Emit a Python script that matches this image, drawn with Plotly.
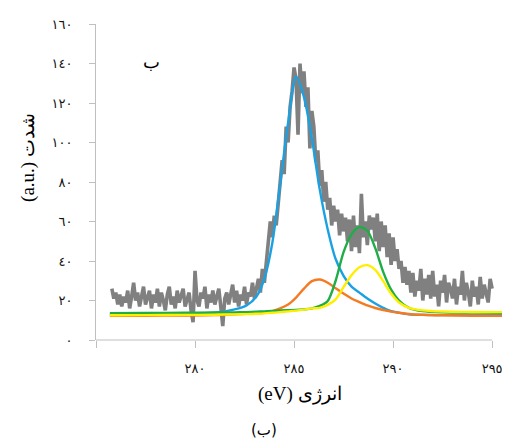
import numpy as np
import plotly.graph_objects as go

# ---------------- data ----------------
# measured spectrum, energy grid start/step (eV)
gray_x0 = 275.8
gray_step = 0.1
gray_y = [
    26, 21, 24, 18, 23, 17, 22, 19, 25, 16, 22, 29,            # 275.8-276.9
    20, 24, 17, 22, 27, 18, 21, 25, 16, 23,                     # 277
    19, 26, 17, 24, 20, 15, 23, 27, 18, 22,                     # 278
    16, 25, 19, 22, 26, 17, 21, 24, 15, 9,                      # 279
    35, 20, 17, 24, 21, 27, 16, 23, 19, 25,                     # 280
    18, 22, 26, 17, 7, 21, 24, 18, 23, 28,                      # 281
    19, 25, 17, 23, 20, 27, 18, 24, 22, 29,                     # 282
    21, 26, 31, 24, 36, 29, 40, 47, 60, 52,                     # 283
    63, 58, 72, 80, 91, 84, 108, 100, 118, 126,                 # 284
    138, 132, 104, 140, 125, 136, 118, 128, 97, 116,            # 285
    108, 90, 96, 78, 86, 70, 80, 66, 72, 58,                    # 286
    68, 60, 66, 53, 64, 55, 62, 50, 61, 45,                     # 287
    63, 47, 58, 44, 74, 52, 60, 48, 63, 56,                     # 288
    62, 50, 64, 45, 60, 47, 58, 42, 54, 38,                     # 289
    52, 40, 46, 36, 40, 29, 37, 28, 35, 24,                     # 290
    34, 22, 30, 25, 36, 20, 31, 23, 33, 21,                     # 291
    35, 22, 28, 17, 30, 24, 33, 19, 29, 26,                     # 292
    21, 31, 18, 27, 23, 35, 20, 29, 24, 17,                     # 293
    30, 22, 27, 18, 32, 21, 28, 24, 19, 31,                     # 294
    26,                                                         # 295
]

# fitted components, sampled on a common energy grid
fit_x = [275.7, 277.5, 279.5, 281.0, 282.0, 282.6, 283.1, 283.5, 283.9, 284.3,
         284.7, 285.1, 285.5, 285.9, 286.3, 286.7, 287.1, 287.5, 287.9, 288.3,
         288.7, 289.1, 289.5, 289.9, 290.3, 290.8, 291.5, 292.5, 294.0, 295.6]
blue_y = [13.0, 13.0, 13.2, 13.8, 15.5, 17.5, 22.0, 31.0, 49.0, 79.0,
          110.0, 133.5, 123.0, 102.0, 76.0, 56.0, 41.0, 32.5, 27.0, 24.0,
          21.0, 18.5, 16.3, 14.6, 13.8, 13.0, 12.7, 12.6, 12.6, 12.6]
orange_y = [12.3, 12.3, 12.4, 12.6, 13.0, 13.3, 13.5, 13.8, 14.6, 16.0,
            18.0, 21.5, 26.0, 29.8, 30.6, 29.0, 26.2, 23.5, 21.0, 19.2,
            17.5, 16.2, 15.2, 14.4, 13.8, 13.2, 12.8, 12.5, 12.3, 12.2]
green_y = [13.6, 13.7, 13.8, 13.9, 14.0, 14.1, 14.3, 14.5, 14.7, 15.0,
           15.1, 15.2, 15.5, 16.0, 17.3, 19.8, 30.0, 44.5, 53.5, 57.2,
           55.3, 46.5, 34.5, 25.5, 20.0, 16.3, 14.6, 14.0, 13.9, 13.8]
yellow_y = [12.5, 12.6, 12.7, 12.8, 13.0, 13.1, 13.3, 13.5, 13.8, 14.1,
            14.5, 14.9, 15.4, 16.0, 16.3, 17.8, 20.6, 26.8, 32.8, 36.8,
            37.9, 35.5, 29.8, 23.5, 19.0, 16.3, 15.0, 14.4, 14.2, 14.1]

x_tick_vals = [280, 285, 290, 295]
x_tick_text = ["٢٨٠", "٢٨٥", "٢٩٠", "٢٩٥"]
y_tick_vals = [0, 20, 40, 60, 80, 100, 120, 140, 160]
y_tick_text = ["٠", "٢٠", "٤٠", "٦٠", "٨٠", "١٠٠", "١٢٠", "١٤٠", "١٦٠"]

x_axis_min, x_axis_max, x_view_max = 275, 295, 295.6
# ---------------------------------------------------------------

gray_x = np.round(gray_x0 + gray_step * np.arange(len(gray_y)), 2)

fig = go.Figure()
fig.add_trace(go.Scatter(x=gray_x, y=gray_y, mode="lines",
                         line=dict(color="#808080", width=3.6), showlegend=False))
for ys, col in [(blue_y, "#1ba1e2"), (orange_y, "#f57a22"),
                (green_y, "#1fad45"), (yellow_y, "#ffee00")]:
    fig.add_trace(go.Scatter(x=fit_x, y=ys, mode="lines",
                             line=dict(color=col, width=2.4, shape="spline", smoothing=0.8),
                             showlegend=False))

axis_col = "#bfbfbf"
tick_font = dict(family="Liberation Serif, DejaVu Sans, serif", size=13, color="#111111")
# page body has an 8px margin, so the figure is sized/placed to compensate
fig.update_layout(
    width=502, height=432,
    margin=dict(l=88, r=6, t=16, b=100, autoexpand=False),
    paper_bgcolor="white", plot_bgcolor="white",
    xaxis=dict(range=[x_axis_min, x_view_max], showline=False, showgrid=False, zeroline=False,
               automargin=False,
               tickmode="array", tickvals=[x_axis_min] + x_tick_vals, ticktext=[""] + x_tick_text,
               ticks="outside", ticklen=7, tickcolor=axis_col, tickwidth=1,
               tickfont=tick_font, ticklabelstandoff=9),
    yaxis=dict(range=[0, 160], showline=True, linecolor=axis_col, linewidth=1,
               showgrid=False, zeroline=False, automargin=False,
               tickmode="array", tickvals=y_tick_vals, ticktext=y_tick_text,
               ticks="outside", ticklen=6, tickcolor=axis_col, tickwidth=1,
               tickfont=tick_font, ticklabelstandoff=14),
)
# x axis line only up to 295
fig.add_shape(type="line", xref="paper", yref="paper",
              x0=0, x1=(x_axis_max - x_axis_min) / (x_view_max - x_axis_min), y0=0, y1=0,
              line=dict(color=axis_col, width=1))

title_font = dict(family="Liberation Serif, DejaVu Serif, serif", size=19, color="black")
fig.add_annotation(text="(eV) انرژی", xref="paper", yref="paper", x=0.5, y=-0.171,
                   showarrow=False, font=title_font, xanchor="center", yanchor="middle")
fig.add_annotation(text="(a.u.) شدت", xref="paper", yref="paper", x=-0.167, y=0.579,
                   textangle=-90, showarrow=False, font=title_font,
                   xanchor="center", yanchor="middle")
fig.add_annotation(text="(ب)", xref="paper", yref="paper", x=0.412, y=-0.285,
                   showarrow=False, font=dict(family="DejaVu Sans, sans-serif", size=15, color="black"),
                   xanchor="center", yanchor="middle")
fig.add_annotation(text="ب", xref="paper", yref="paper", x=0.137, y=0.88,
                   showarrow=False, font=dict(family="Liberation Serif, DejaVu Serif, serif", size=18, color="black"),
                   xanchor="center", yanchor="middle")

fig.write_html("out.html")
